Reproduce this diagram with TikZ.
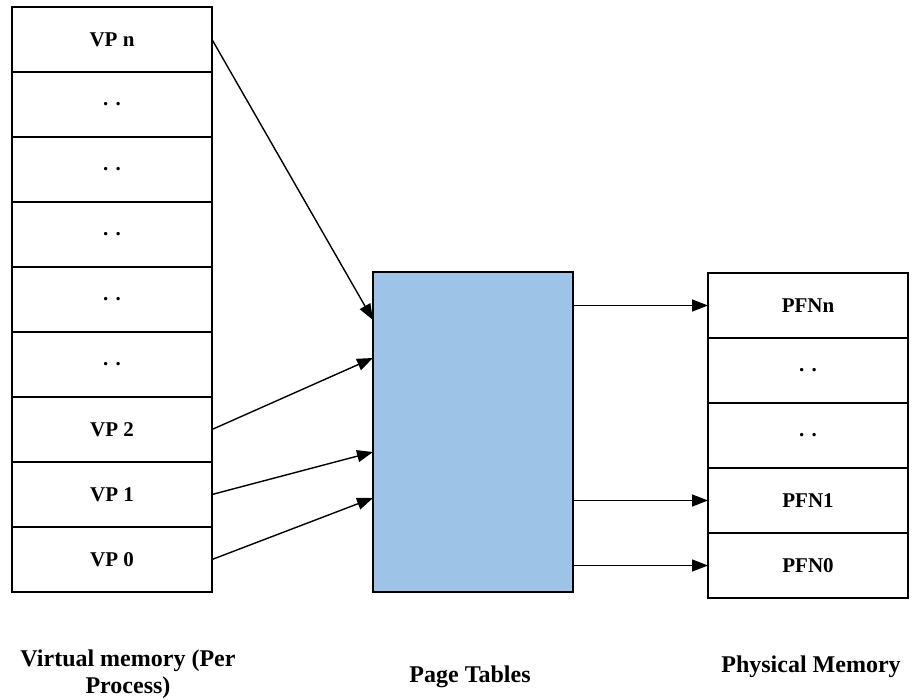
\documentclass[tikz,border=0pt]{standalone}
\usepackage{fontspec}
\setmainfont{Liberation Serif}
\usetikzlibrary{arrows.meta,positioning}
\definecolor{ptblue}{HTML}{9DC3E6}
\newcommand{\twodots}{.\hspace{.35em}.}
\tikzset{
  cell/.style={draw, line width=1.8pt, outer sep=0pt, inner sep=0pt,
    minimum width=200pt, minimum height=65pt,
    font=\fontsize{21}{25}\selectfont\bfseries},
  ptr/.style={line width=1.4pt, -{Triangle[length=16pt,width=12pt]}},
  caption/.style={font=\fontsize{24}{27}\selectfont\bfseries, align=center},
}
\begin{document}
\begin{tikzpicture}[x=1pt,y=-1pt]
\useasboundingbox (0,0) rectangle (918,700);
% virtual pages
\node[cell] (vpn) at (112,39.5) {VP n};
\node[cell, below=0pt of vpn] (vd1) {\twodots};
\node[cell, below=0pt of vd1] (vd2) {\twodots};
\node[cell, below=0pt of vd2] (vd3) {\twodots};
\node[cell, below=0pt of vd3] (vd4) {\twodots};
\node[cell, below=0pt of vd4] (vd5) {\twodots};
\node[cell, below=0pt of vd5] (vp2) {VP 2};
\node[cell, below=0pt of vp2] (vp1) {VP 1};
\node[cell, below=0pt of vp1] (vp0) {VP 0};
% page tables
\node[draw, fill=ptblue, line width=1.4pt, outer sep=0pt,
  minimum width=200pt, minimum height=320pt] (pt) at (473,432) {};
% physical frames
\node[cell] (pfnn) at (808,305.5) {PFNn};
\node[cell, below=0pt of pfnn] (pd1) {\twodots};
\node[cell, below=0pt of pd1] (pd2) {\twodots};
\node[cell, below=0pt of pd2] (pfn1) {PFN1};
\node[cell, below=0pt of pfn1] (pfn0) {PFN0};
% virtual -> page tables
\draw[ptr]
  (vpn.east) --
  ([yshift=112pt]pt.west);
\draw[ptr]
  (vp2.east) --
  ([yshift=74pt]pt.west);
\draw[ptr]
  (vp1.east) --
  ([yshift=-20pt]pt.west);
\draw[ptr]
  (vp0.east) --
  ([yshift=-66pt]pt.west);
% page tables -> physical
\draw[ptr] (pt.east |- pfnn.west) -- (pfnn.west);
\draw[ptr] (pt.east |- pfn1.west) -- (pfn1.west);
\draw[ptr] (pt.east |- pfn0.west) -- (pfn0.west);
% captions
\node[caption] (vmlabel) at (128,674) {Virtual memory (Per\\Process)};
\node[caption, anchor=base] (ptlabel) at (470,682) {Page Tables};
\node[caption, anchor=base] (pmlabel) at (811,672) {Physical Memory};
\end{tikzpicture}
\end{document}
